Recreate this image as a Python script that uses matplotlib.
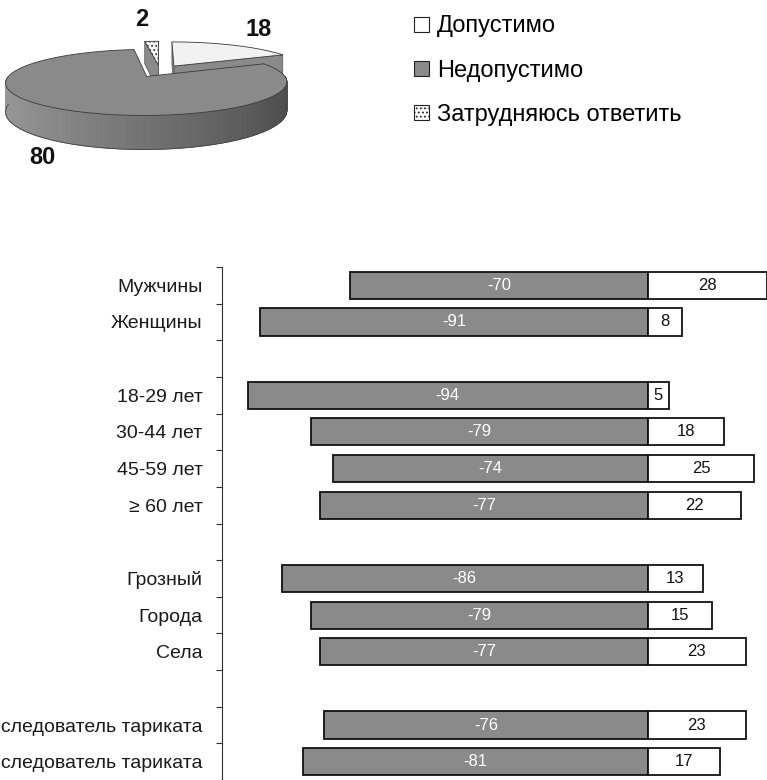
import numpy as np
import matplotlib
matplotlib.use('Agg')
import matplotlib.pyplot as plt
from matplotlib.patches import Polygon, Patch

plt.rcParams['font.family'] = ['Liberation Sans', 'DejaVu Sans']
plt.rcParams['hatch.linewidth'] = 0.8

# --- данные: круговая диаграмма ---
pie_labels = ['Допустимо', 'Недопустимо', 'Затрудняюсь ответить']
pie_values = [18, 80, 2]

# --- данные: линейчатая диаграмма ---
categories = ['Мужчины', 'Женщины', '',
              '18-29 лет', '30-44 лет', '45-59 лет', '≥ 60 лет', '',
              'Грозный', 'Города', 'Села', '',
              'Последователь тариката', 'Не последователь тариката']
neg_values = [-70, -91, None, -94, -79, -74, -77, None, -86, -79, -77, None, -76, -81]
pos_values = [28, 8, None, 5, 18, 25, 22, None, 13, 15, 23, None, 23, 17]

GRAY = '#8a8a8a'
W, H = 767, 780
fig = plt.figure(figsize=(W / 100, H / 100), dpi=100)

# ---------------- 3D pie (ручная проекция) ----------------
axp = fig.add_axes([0, 1 - 200 / H, 400 / W, 200 / H])
axp.set_xlim(0, 400)
axp.set_ylim(200, 0)
axp.axis('off')

CX, CY, A, B, K, DEPTH = 160, 71, 134, 30, 0.176, 27
EXPLODE = 0.2


def proj(u, w, drop=0.0):
    s = 1.0 / (1.0 + K * w)
    return CX + A * u * s, CY - B * w * s + drop * DEPTH * s


def area(pts):
    x = np.array([p[0] for p in pts])
    y = np.array([p[1] for p in pts])
    return np.sum(x * np.roll(y, -1) - np.roll(x, -1) * y)


top_colors = ['#f2f2f2', GRAY, '#f4f4f4']
hatches = [None, None, '....']
fracs = np.array(pie_values) / sum(pie_values)
cum = np.concatenate([[0], np.cumsum(fracs)[:-1]])
slices = []
for i, f in enumerate(fracs):
    te = 90 - cum[i] * 360
    ts = te - f * 360
    mid = np.radians((ts + te) / 2)
    ox, oy = EXPLODE * np.cos(mid), EXPLODE * np.sin(mid)
    slices.append((i, ts, te, ox, oy))

# рисуем сзади вперёд
for i, ts, te, ox, oy in sorted(slices, key=lambda s: -s[4]):
    apex_t = proj(ox, oy)
    apex_b = proj(ox, oy, 1)
    # радиальные грани
    for phi, sign in ((ts, 1), (te, -1)):
        r = np.radians(phi)
        rt = proj(ox + np.cos(r), oy + np.sin(r))
        rb = proj(ox + np.cos(r), oy + np.sin(r), 1)
        pts = [apex_t, rt, rb, apex_b]
        if area(pts) * sign > 0:
            axp.add_patch(Polygon(pts, closed=True, fc=GRAY, ec='#555555', lw=0.5))
    # внешняя боковая поверхность (передняя часть)
    th = np.radians(np.linspace(ts, te, 400))
    front = np.sin(th) < 0
    if front.any():
        idx = np.where(front)[0]
        for j in range(idx[0], idx[-1]):
            a0, a1 = th[j], th[j + 1]
            p = [proj(ox + np.cos(a0), oy + np.sin(a0)), proj(ox + np.cos(a1), oy + np.sin(a1)),
                 proj(ox + np.cos(a1), oy + np.sin(a1), 1), proj(ox + np.cos(a0), oy + np.sin(a0), 1)]
            v = 0.45 - 0.15 * np.cos((a0 + a1) / 2)
            axp.add_patch(Polygon(p, closed=True, fc=(v, v, v), ec=(v, v, v), lw=0.6))
        bot = [proj(ox + np.cos(a), oy + np.sin(a), 1) for a in th[front]]
        axp.plot([p[0] for p in bot], [p[1] for p in bot], color='#444444', lw=0.6)
    # верхняя грань
    top = [apex_t] + [proj(ox + np.cos(a), oy + np.sin(a)) for a in th]
    axp.add_patch(Polygon(top, closed=True, fc=top_colors[i], ec='#3a3a3a', lw=0.6,
                          hatch=hatches[i]))

label_xy = [(259, 30), (42, 157), (142, 19)]
for i, (x, y) in enumerate(label_xy):
    axp.text(x, y, str(pie_values[i]), ha='center', va='center',
             fontsize=17, fontweight='bold', color='#111111')

handles = [Patch(fc='white', ec='#222222', lw=0.8),
           Patch(fc=GRAY, ec='#222222', lw=0.8),
           Patch(fc='white', ec='#222222', lw=0.8, hatch='....')]
fig.legend(handles, pie_labels, loc='upper left', bbox_to_anchor=(405 / W, 1 - 6 / H),
           frameon=False, fontsize=17, handlelength=0.6, handleheight=0.6,
           handletextpad=0.35, labelspacing=0.95, borderaxespad=0)

# ---------------- bars ----------------
ax = fig.add_axes([222 / W, 0, 545 / W, 513 / H])
y = np.arange(len(categories))
for i in y:
    if neg_values[i] is None:
        continue
    ax.barh(i, neg_values[i], height=0.74, color=GRAY, edgecolor='#111111', lw=1.3)
    ax.barh(i, pos_values[i], height=0.74, color='white', edgecolor='#111111', lw=1.3)
    ax.text(neg_values[i] / 2, i, str(neg_values[i]), ha='center', va='center',
            color='white', fontsize=12)
    ax.text(pos_values[i] / 2, i, str(pos_values[i]), ha='center', va='center',
            color='#111111', fontsize=12)

ax.set_xlim(-100, 28)
ax.set_ylim(13.5, -0.5)
for s in ('top', 'right', 'bottom'):
    ax.spines[s].set_visible(False)
ax.spines['left'].set_color('#333333')
ax.spines['left'].set_linewidth(0.8)
ax.set_xticks([])
ax.set_yticks(np.arange(-0.5, len(categories), 1))
ax.set_yticklabels([])
ax.tick_params(axis='y', which='major', length=4.5, width=0.8, color='#333333')
ax.set_yticks(y, minor=True)
ax.set_yticklabels(categories, minor=True, fontsize=14, color='#1a1a1a')
ax.tick_params(axis='y', which='minor', length=0, pad=14)

fig.savefig('out.png', dpi=100)
